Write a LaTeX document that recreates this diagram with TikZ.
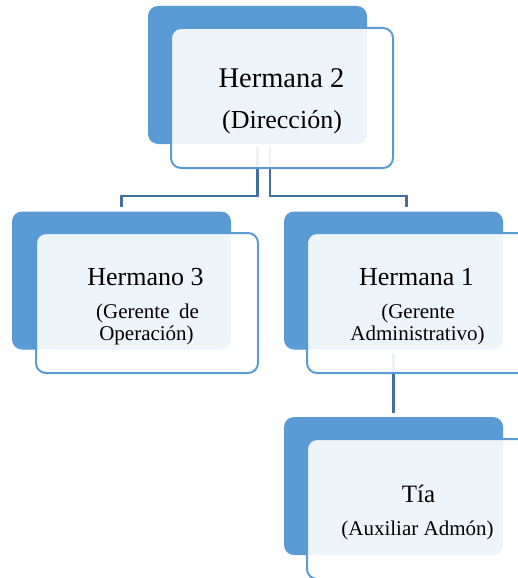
\documentclass[tikz,border=0pt]{standalone}
\usepackage{fontspec}
\setmainfont{Liberation Serif}
\usetikzlibrary{calc}
\definecolor{accent}{HTML}{5B9BD5}
\definecolor{linkblue}{HTML}{41719C}
\begin{document}
\begin{tikzpicture}[x=1pt,y=-1pt,
  backbox/.style={rectangle, rounded corners=10pt, fill=accent, draw=none,
    minimum width=219pt, minimum height=138pt, inner sep=0pt},
  frontbox/.style={rectangle, rounded corners=10pt, fill=white, fill opacity=0.9,
    draw=accent, line width=2pt, minimum width=222pt, minimum height=140pt, inner sep=0pt},
  conn/.style={draw=linkblue, line width=2.2pt},
  label/.style={anchor=base, inner sep=0pt, text=black}]
\useasboundingbox (0,0) rectangle (518,578);
\clip (0,0) rectangle (518,578);

% back cards
\node[backbox] (b2) at (257.5,75) {};
\node[backbox] (b3) at (121.5,280.5) {};
\node[backbox] (b1) at (393.5,280.5) {};
\node[backbox] (bt) at (393.5,486) {};

% connectors, drawn under the front cards
\draw[conn] ([yshift=-3pt]b2.south) -- ++(0,49) -| ([yshift=4pt]b3.north);
\draw[conn] ([shift={(12.5pt,-3pt)}]b2.south) -- ++(0,49) -| ([shift={(13pt,4pt)}]b1.north);
\draw[conn] ([yshift=-4pt]b1.south) -- ([yshift=4pt]bt.north);

% front cards
\node[frontbox] (f2) at (282,98) {};
\node[frontbox] (f3) at (147,303) {};
\node[frontbox] (f1) at (418,303) {};
\node[frontbox] (ft) at (418,509) {};

% texts
\node[label, font=\fontsize{28.5}{30}\selectfont] (t2a) at (281.5,88) {Hermana 2};
\node[label, font=\fontsize{26}{28}\selectfont] (t2b) at (282,128) {(Dirección)};

\node[label, font=\fontsize{26}{28}\selectfont] (t3a) at (145.5,285) {Hermano 3};
\node[label, font=\fontsize{21}{23}\selectfont] (t3b) at (147.5,318) {(Gerente\hspace{0.45em}de};
\node[label, font=\fontsize{21}{23}\selectfont] (t3c) at (146.5,340) {Operación)};

\node[label, font=\fontsize{26}{28}\selectfont] (t1a) at (416.5,285) {Hermana 1};
\node[label, font=\fontsize{21}{23}\selectfont] (t1b) at (418,318) {(Gerente};
\node[label, font=\fontsize{21}{23}\selectfont] (t1c) at (417.5,340) {Administrativo)};

\node[label, font=\fontsize{25}{27}\selectfont] (tta) at (418.5,502) {Tía};
\node[label, font=\fontsize{21}{23}\selectfont] (ttb) at (417.5,535) {(Auxiliar Admón)};
\end{tikzpicture}
\end{document}
